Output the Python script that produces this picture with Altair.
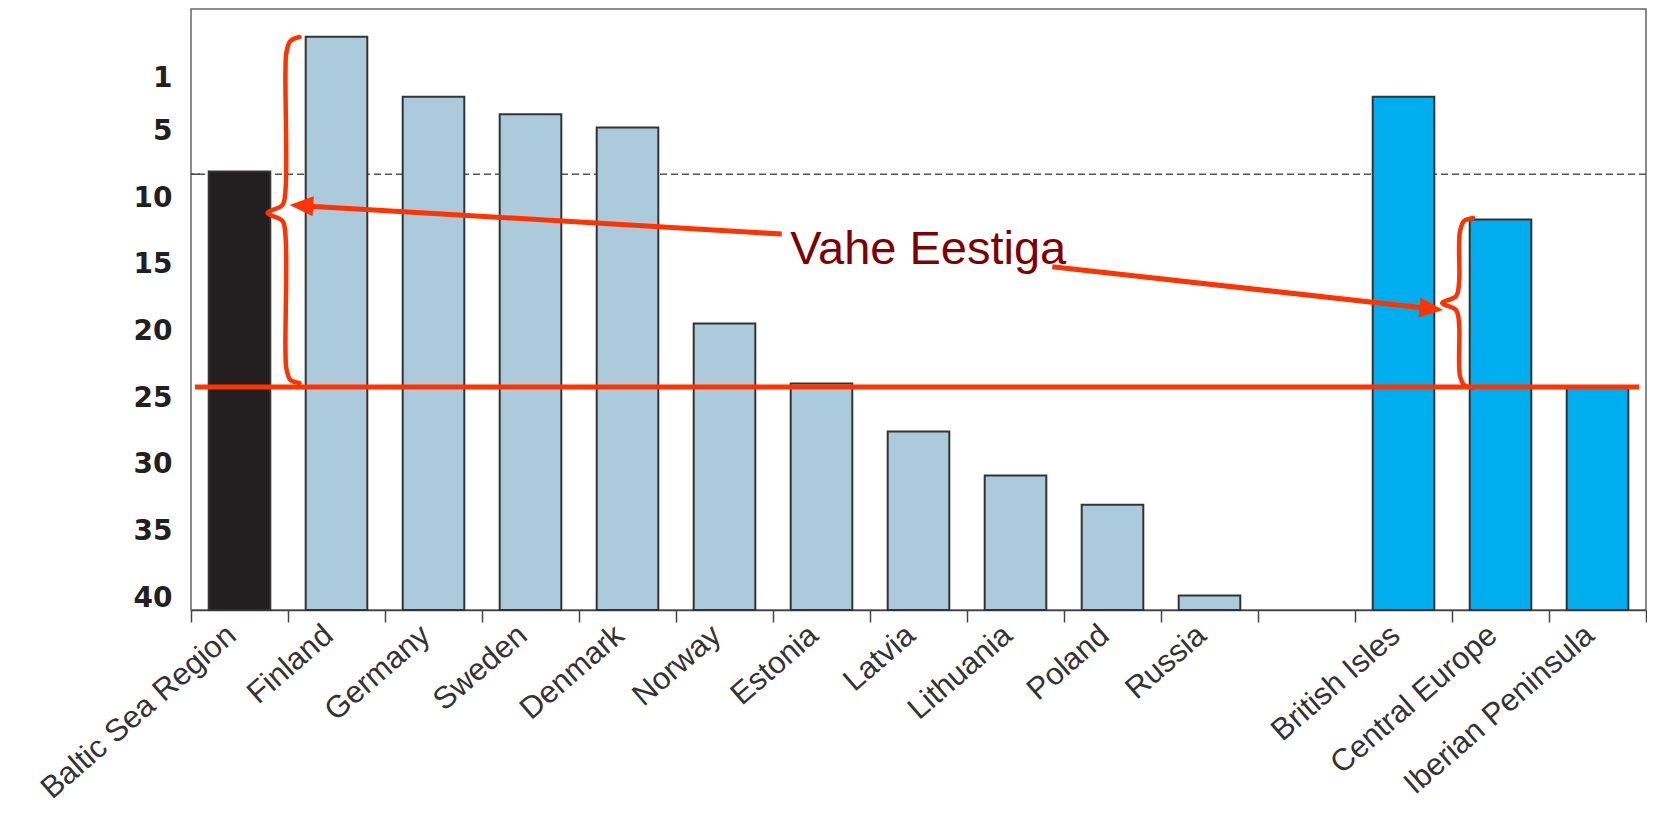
import altair as alt
import pandas as pd

# ---------------- data ----------------
CATEGORIES = ["Baltic Sea Region", "Finland", "Germany", "Sweden", "Denmark",
              "Norway", "Estonia", "Latvia", "Lithuania", "Poland", "Russia",
              " ", "British Isles", "Central Europe", "Iberian Peninsula"]
BAR_CATS = ["Baltic Sea Region", "Finland", "Germany", "Sweden", "Denmark",
            "Norway", "Estonia", "Latvia", "Lithuania", "Poland", "Russia",
            "British Isles", "Central Europe", "Iberian Peninsula"]
RANKS = [8.0, -2.1, 2.4, 3.7, 4.7, 19.4, 23.9, 27.5, 30.8, 33.0, 39.8,
         2.4, 11.6, 24.1]
GROUPS = ["region"] + ["baltic"] * 10 + ["europe"] * 3
GROUP_NAMES = ["region", "baltic", "europe"]
GROUP_COLORS = ["#231F20", "#ABCBDC", "#00AEEF"]

Y_TICKS = [1, 5, 10, 15, 20, 25, 30, 35, 40]
Y_DOMAIN = [-4.19, 40.89]
DASH_LEVEL = 8.2
ESTONIA_LEVEL = 24.16

# annotation geometry (x in category units 0..15, y in rank units)
LEFT_BRACE_U = [1.118, 1.025, 0.984, 0.974, 0.974, 0.943, 0.789, 0.943, 0.974, 0.974, 0.984, 1.025, 1.118]
LEFT_BRACE_V = [-2.09, -1.79, -0.97, 0.38, 9.38, 10.51, 11.11, 11.71, 12.83, 21.5, 22.8, 23.63, 23.86]
RIGHT_BRACE_U = [13.217, 13.124, 13.083, 13.073, 13.073, 13.042, 12.898, 13.042, 13.073, 13.073, 13.083, 13.124, 13.217]
RIGHT_BRACE_V = [11.48, 11.71, 12.46, 13.59, 16.29, 17.34, 17.86, 18.39, 19.44, 22.29, 23.34, 24.01, 24.24]
ARROW_U = [6.09, 8.879]
ARROW_V = [12.69, 15.15]
ARROW_U2 = [1.138, 12.786]
ARROW_V2 = [10.56, 18.29]
ARROW_ANGLE = [3.2, 186.3]
LABEL_TEXT = ["Vahe Eestiga"]
LABEL_U = [7.6]
LABEL_V = [14.94]
HLINE_U = [0.04]
HLINE_U2 = [14.93]

RED = "#FF3300"
FONT = "Liberation Sans"

# ---------------- scales / axes ----------------
YS = alt.Scale(domain=Y_DOMAIN, reverse=True, nice=False, zero=False)
US = alt.Scale(domain=[0, 15], nice=False, zero=False)
YAX = alt.Axis(values=Y_TICKS, title=None, domain=False, ticks=False,
               tickSize=0, grid=False, labelFontSize=28,
               labelFontWeight="bold", labelColor="#231F20",
               labelFont="DejaVu Sans", labelPadding=19)


def yq(field="v"):
    return alt.Y(f"{field}:Q", scale=YS, axis=YAX, title=None)


def uq(field="u"):
    return alt.X(f"{field}:Q", scale=US, axis=None, title=None)


bars_df = pd.DataFrame({"cat": BAR_CATS, "v": RANKS, "grp": GROUPS})

bars = alt.Chart(bars_df).mark_bar(
    stroke="#333333", strokeWidth=2, width=alt.RelativeBandSize(0.635)).encode(
    x=alt.X("cat:N", sort=CATEGORIES,
            scale=alt.Scale(domain=CATEGORIES, paddingInner=0, paddingOuter=0),
            axis=alt.Axis(title=None, labelAngle=319, labelAlign="right",
                          labelBaseline="middle", labelFontSize=31,
                          labelColor="#333333", labelFont=FONT, labelPadding=9,
                          labelOffset=-8, labelLimit=500, labelOverlap=False,
                          tickBand="extent", tickSize=12, tickWidth=1.5,
                          tickColor="#444444", domainColor="#444444",
                          domainWidth=1.5)),
    y=yq(),
    y2=alt.datum(Y_DOMAIN[1]),
    color=alt.Color("grp:N", scale=alt.Scale(domain=GROUP_NAMES, range=GROUP_COLORS),
                    legend=None),
)

dash = alt.Chart(pd.DataFrame({"v": [DASH_LEVEL]})).mark_rule(
    strokeDash=[7, 4], color="#555555", strokeWidth=1.5).encode(y=yq())

minitick = alt.Chart(pd.DataFrame({"v": [DASH_LEVEL]})).mark_rule(
    color="#444444", strokeWidth=1.5).encode(
    x=alt.value(0), x2=alt.value(9), y=yq())

hline = alt.Chart(pd.DataFrame({"u": HLINE_U, "u2": HLINE_U2, "v": [ESTONIA_LEVEL]})).mark_rule(
    color=RED, strokeWidth=5).encode(x=uq(), x2="u2:Q", y=yq())

brace_df = pd.DataFrame({
    "u": LEFT_BRACE_U + RIGHT_BRACE_U,
    "v": LEFT_BRACE_V + RIGHT_BRACE_V,
    "g": ["L"] * len(LEFT_BRACE_U) + ["R"] * len(RIGHT_BRACE_U),
    "o": list(range(len(LEFT_BRACE_U))) + list(range(len(RIGHT_BRACE_U))),
})
braces = alt.Chart(brace_df).mark_line(
    color=RED, strokeWidth=4.5, interpolate="catmull-rom", strokeCap="round",
    strokeJoin="round").encode(x=uq(), y=yq(), detail="g:N", order="o:Q")

arrow_df = pd.DataFrame({"u": ARROW_U, "v": ARROW_V, "u2": ARROW_U2, "v2": ARROW_V2,
                         "a": ARROW_ANGLE})
arrow_lines = alt.Chart(arrow_df).mark_rule(color=RED, strokeWidth=5).encode(
    x=uq(), y=yq(), x2="u2:Q", y2="v2:Q")
arrow_heads = alt.Chart(arrow_df).mark_point(
    shape="M -1 0 L 1 -0.85 L 1 0.85 Z", filled=True, color=RED, opacity=1,
    strokeWidth=0).encode(
    x=uq("u2"), y=yq("v2"), angle=alt.Angle("a:Q", scale=None), size=alt.value(560))

label = alt.Chart(pd.DataFrame({"u": LABEL_U, "v": LABEL_V, "t": LABEL_TEXT})).mark_text(
    font=FONT, fontSize=47, color="#800000", align="center", baseline="alphabetic").encode(
    x=uq(), y=yq(), text="t:N")

chart = alt.layer(dash, minitick, bars, hline, braces, arrow_lines, arrow_heads, label).resolve_scale(
    x="independent"
).properties(
    width=1455, height=601,
    autosize=alt.AutoSizeParams(type="none"),
    padding={"left": 183, "top": 1, "right": 1, "bottom": 197},
    background="white",
).configure_view(stroke="#666666", strokeWidth=1.5)

chart.save("out.html", embed_options={"renderer": "svg", "actions": False})
